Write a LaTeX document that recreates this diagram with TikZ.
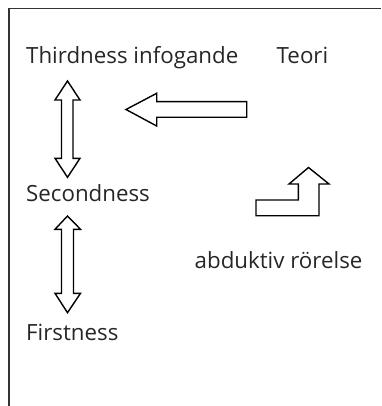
\documentclass[tikz,border=0pt]{standalone}
\usepackage{fontspec}
\setmainfont{Open Sans}
\begin{document}
\begin{tikzpicture}[x=1pt,y=-1pt,
  lbl/.style={anchor=base west,inner sep=0pt,font=\fontsize{22.3}{26}\selectfont,text=black!85},
  blockarrow/.style={draw=black,line width=1.4pt,fill=white,line join=miter}]
\useasboundingbox (0,0) rectangle (381,406);
% frame
\draw[line width=1.2pt,black!80] (9,406) -- (9,8.5) -- (381,8.5);
% labels
\node[lbl] (third) at (26,63.3) {Thirdness infogande};
\node[lbl] (teori) at (276.5,63.3) {Teori};
\node[lbl] (second) at (26,201.7) {Secondness};
\node[lbl] (abd) at (194.5,268) {abduktiv rörelse};
\node[lbl] (first) at (26,340) {Firstness};
% double arrow Thirdness - Secondness
\draw[blockarrow] (67.5,81) -- (80,100) -- (73,100) -- (73,158.3) -- (80,158.3) -- (67.5,177.3)
  -- (55,158.3) -- (61.5,158.3) -- (61.5,100) -- (55,100) -- cycle;
% double arrow Secondness - Firstness
\draw[blockarrow] (67.5,216) -- (80.5,229.3) -- (73.5,229.3) -- (73.5,293.3) -- (80.5,293.3) -- (67.5,312.7)
  -- (55,293.3) -- (61.5,293.3) -- (61.5,229.3) -- (55,229.3) -- cycle;
% left arrow from Teori
\draw[blockarrow] (126,109.5) -- (156.7,93.3) -- (156.7,101.7) -- (246.7,101.7) -- (246.7,117.3)
  -- (156.7,117.3) -- (156.7,126) -- cycle;
% bent arrow
\draw[blockarrow] (256,200) -- (298.3,200) -- (298.3,184) -- (289,184) -- (308.5,167.5) -- (329,184)
  -- (319,184) -- (319,215.7) -- (256,215.7) -- cycle;
\end{tikzpicture}
\end{document}
